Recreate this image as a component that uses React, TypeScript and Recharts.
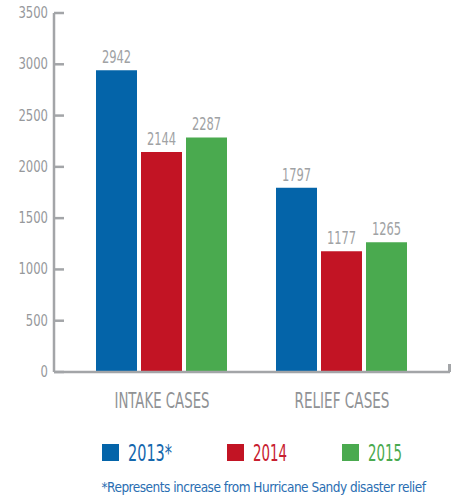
import { BarChart, Bar, XAxis, YAxis, LabelList, Legend } from 'recharts';

const categories = ['INTAKE CASES', 'RELIEF CASES'];
const cases2013 = [2942, 1797];
const cases2014 = [2144, 1177];
const cases2015 = [2287, 1265];
const yTicks = [0, 500, 1000, 1500, 2000, 2500, 3000, 3500];
const seriesNames = ['2013*', '2014', '2015'];
const footnote = '*Represents increase from Hurricane Sandy disaster relief';

const data = categories.map((name, i) => ({
  name,
  y2013: cases2013[i],
  y2014: cases2014[i],
  y2015: cases2015[i],
}));

const FONT = '"Liberation Sans Narrow", "DejaVu Sans Condensed", sans-serif';
const AXIS = '#a3a5a8';
const barColors = ['#0464a9', '#c21424', '#4aaa4f'];
const legendText = ['#1567ad', '#c8202f', '#4aaa4f'];
const legendWidths = [44, 34, 34];

const YTick = (props: any) => {
  const { x, y, payload } = props;
  const label = String(payload.value);
  return (
    <g>
      <line x1={x + 6} x2={x + 16} y1={y} y2={y} stroke={AXIS} strokeWidth={2.5} />
      <text
        x={x}
        y={y + 5}
        textAnchor="end"
        fill="#96989b"
        fontSize={15}
        fontFamily={FONT}
        textLength={label.length * 7.4}
        lengthAdjust="spacingAndGlyphs"
      >
        {label}
      </text>
    </g>
  );
};

const XTick = (props: any) => {
  const { x, y, payload } = props;
  return (
    <text
      x={x}
      y={y + 36}
      textAnchor="middle"
      fill="#909295"
      fontSize={22}
      fontFamily={FONT}
      textLength={95}
      lengthAdjust="spacingAndGlyphs"
    >
      {payload.value}
    </text>
  );
};

const ValueLabel = (props: any) => {
  const { x, y, width, value } = props;
  const label = String(value);
  return (
    <text
      x={x + width / 2}
      y={y - 7}
      textAnchor="middle"
      fill="#a0a2a4"
      fontSize={17}
      fontFamily={FONT}
      textLength={label.length * 7.3}
      lengthAdjust="spacingAndGlyphs"
    >
      {label}
    </text>
  );
};

const LegendContent = () => {
  let cx = 102;
  const items = seriesNames.map((name, i) => {
    const x = cx;
    cx += 17 + 9 + legendWidths[i] + 55;
    return (
      <g key={name}>
        <rect x={x} y={14} width={17} height={17} fill={barColors[i]} />
        <text
          x={x + 26}
          y={31}
          fill={legendText[i]}
          fontSize={23}
          fontFamily={FONT}
          textLength={legendWidths[i]}
          lengthAdjust="spacingAndGlyphs"
        >
          {name}
        </text>
      </g>
    );
  });
  return (
    <div>
      <svg width={451} height={40} style={{ display: 'block' }}>
        {items}
      </svg>
      <div
        style={{
          textAlign: 'center',
          paddingLeft: 76,
          color: '#2a6eb2',
          fontSize: 13.5,
          fontFamily: FONT,
          lineHeight: '18px',
          letterSpacing: -0.5,
          marginTop: 8,
          whiteSpace: 'nowrap',
        }}
      >
        {footnote}
      </div>
    </div>
  );
};

export default function App() {
  return (
    <div style={{ position: 'absolute', left: 0, top: 0, width: 451, height: 499, background: '#fff' }}>
      <BarChart
        width={451}
        height={499}
        data={data}
        margin={{ top: 13, right: 1, left: 0, bottom: 0 }}
        barCategoryGap={24}
        barGap={4}
      >
        <XAxis
          dataKey="name"
          height={127}
          padding={{ left: 18, right: 18 }}
          axisLine={{ stroke: AXIS, strokeWidth: 2.5 }}
          tickLine={false}
          tickSize={0}
          tickMargin={0}
          tick={<XTick />}
        />
        <YAxis
          width={54}
          domain={[0, 3500]}
          ticks={yTicks}
          interval={0}
          axisLine={{ stroke: AXIS, strokeWidth: 2.5 }}
          tickLine={false}
          tickSize={0}
          tickMargin={6}
          tick={<YTick />}
        />
        <Legend
          verticalAlign="middle"
          layout="horizontal"
          wrapperStyle={{ top: 430, left: 0, width: 451 }}
          content={<LegendContent />}
        />
        {['y2013', 'y2014', 'y2015'].map((key, i) => (
          <Bar key={key} dataKey={key} name={seriesNames[i]} fill={barColors[i]} isAnimationActive={false}>
            <LabelList dataKey={key} content={<ValueLabel />} />
          </Bar>
        ))}
      </BarChart>
      <div style={{ position: 'absolute', left: 448, top: 364, width: 2.5, height: 8, background: AXIS }} />
    </div>
  );
}
